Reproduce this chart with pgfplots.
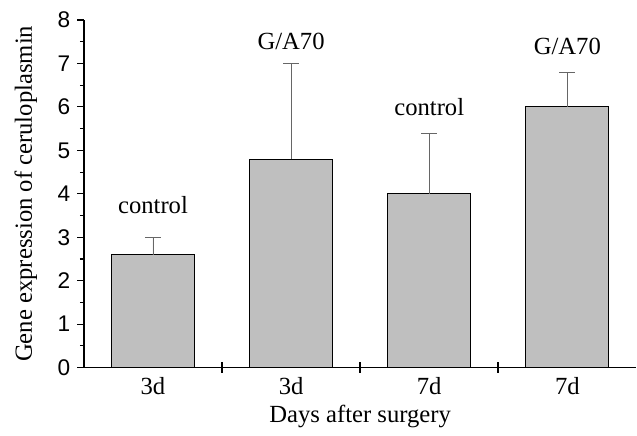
\documentclass[border=0pt]{standalone}
\usepackage{fontspec}
\setmainfont{Liberation Serif}
\newfontfamily\arialfont{Liberation Sans}
\usepackage{pgfplots}
\pgfplotsset{compat=1.18}
\pgfplotstableread{
x y e
0 2.6 0.4
1 4.8 2.2
2 4.0 1.4
3 6.0 0.8
}\datatable
\begin{document}
\fontsize{18}{21}\selectfont
\begin{tikzpicture}
\begin{axis}[
  width=414.75pt, height=261pt, scale only axis,
  xmin=-0.5, xmax=3.5, ymin=0, ymax=8,
  axis x line=bottom, axis y line=left,
  axis line style={-, line width=0.9pt},
  clip=false,
  tick align=outside,
  xtick={0,1,2,3}, xticklabels={3d,3d,7d,7d},
  major x tick style={draw=none},
  extra x ticks={0.5,1.5,2.5},
  extra x tick labels={},
  extra x tick style={tick align=center, major tick length=8pt, major x tick style={draw=black, line width=1.3pt}},
  ytick={0,...,8}, minor ytick={0.5,1.5,...,7.5},
  major tick length=5pt, minor tick length=3pt,
  y tick style={line width=0.8pt, black},
  /pgf/number format/assume math mode=true,
  yticklabel style={font=\arialfont\fontsize{17}{18}\selectfont, xshift=1pt},
  xticklabel style={font=\fontsize{18.5}{20}\selectfont, yshift=4pt},
  xlabel={Days after surgery},
  ylabel={Gene expression of ceruloplasmin},
  xlabel style={at={(axis description cs:0.5,-0.139)}, anchor=center, font=\fontsize{18.5}{20}\selectfont},
  ylabel style={at={(axis description cs:-0.105,0.5)}, anchor=center, rotate=0, font=\fontsize{18.5}{20}\selectfont},
]
\path (rel axis cs:-0.1519,-0.1695) rectangle (rel axis cs:1,1.0575);
\addplot[ybar, bar width=0.6, fill=gray!50, draw=black, line width=0.7pt,
  error bars/.cd, y dir=plus, y explicit,
  error bar style={line width=0.6pt, draw=black!60},
  error mark options={rotate=90, mark size=6pt, line width=0.6pt, draw=black!60}]
  table[x=x, y=y, y error=e] {\datatable};
\node[anchor=base, font=\fontsize{18.5}{20}\selectfont] at (axis cs:0,3.55) {control};
\node[anchor=base, font=\fontsize{18.5}{20}\selectfont] at (axis cs:1,7.32) {G/A70};
\node[anchor=base, font=\fontsize{18.5}{20}\selectfont] at (axis cs:2,5.8) {control};
\node[anchor=base, font=\fontsize{18.5}{20}\selectfont] at (axis cs:3,7.2) {G/A70};
\end{axis}
\end{tikzpicture}
\end{document}
